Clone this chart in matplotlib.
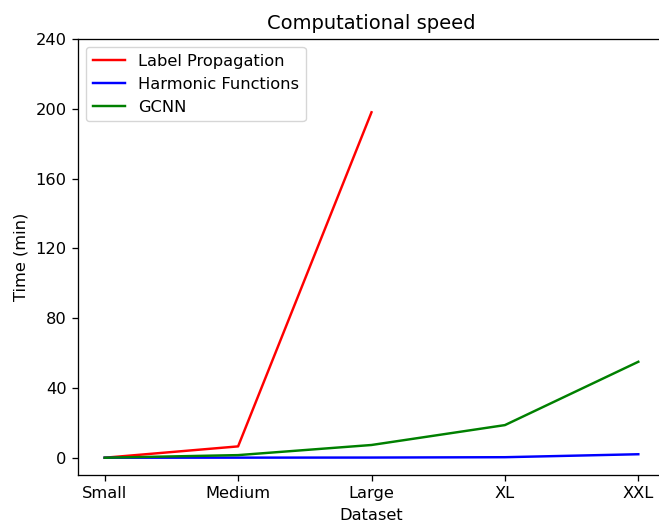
import matplotlib
matplotlib.use("Agg")
import matplotlib.pyplot as plt

datasets = ["Small", "Medium", "Large", "XL", "XXL"]
label_prop = [0.0, 6.5, 198.0]
harmonic = [0.0, 0.05, 0.1, 0.3, 2.0]
gcnn = [0.0, 1.5, 7.3, 18.7, 55.0]
yticks = [0, 40, 80, 120, 160, 200, 240]

s = 1.17
plt.rcParams.update({
    "font.size": 10 * s,
    "lines.linewidth": 1.5 * s,
    "axes.linewidth": 0.8 * s,
    "xtick.major.size": 3.5 * s,
    "ytick.major.size": 3.5 * s,
    "xtick.major.width": 0.8 * s,
    "ytick.major.width": 0.8 * s,
    "xtick.major.pad": 3.5 * s,
    "ytick.major.pad": 3.5 * s,
    "axes.titlepad": 6 * s,
    "axes.labelpad": 4 * s,
})

fig = plt.figure(figsize=(6.59, 5.24), dpi=100)
ax = fig.add_axes([78/659, 49/524, 587/659, 436/524])
ax.plot(datasets[:3], label_prop, color="red", label="Label Propagation")
ax.plot(datasets, harmonic, color="blue", label="Harmonic Functions")
ax.plot(datasets, gcnn, color="green", label="GCNN")
ax.set_ylim(-9.9, 240)
ax.set_yticks(yticks)
ax.set_xlabel("Dataset")
ax.set_ylabel("Time (min)")
ax.set_title("Computational speed")
ax.legend(loc="upper left")
fig.savefig("out.png", dpi=100)
